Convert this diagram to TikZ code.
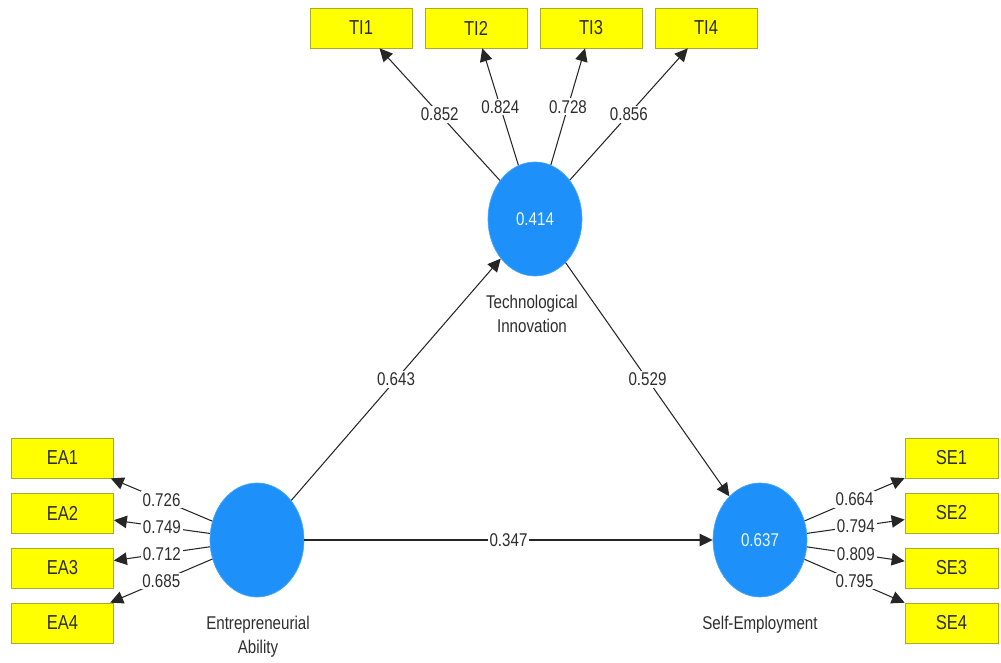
\documentclass[tikz,border=0pt]{standalone}
\usepackage{fontspec}
\setmainfont{Liberation Sans}[FakeStretch=0.82]
\usepackage{xcolor}
\usepackage{tikz}
\usetikzlibrary{arrows.meta,calc,positioning,shapes.geometric}

\definecolor{lvblue}{RGB}{30,144,250}
\definecolor{indyellow}{RGB}{255,255,0}
\definecolor{indborder}{RGB}{170,170,40}
\definecolor{labgray}{RGB}{45,45,45}

\tikzset{
	latent/.style={ellipse,fill=lvblue,draw=lvblue!80!white,minimum width=1.88cm,minimum height=2.28cm,inner sep=0pt,text=cyan!8!white,font=\fontsize{10.5}{12}\selectfont},
	indicator/.style={rectangle,fill=indyellow,draw=indborder,minimum width=2.04cm,minimum height=0.8cm,inner sep=0pt,text=labgray,font=\fontsize{11.5}{13}\selectfont},
	coef/.style={fill=white,inner sep=1pt,text=labgray,font=\fontsize{10.5}{12}\selectfont},
	lvname/.style={align=center,text=labgray,font=\fontsize{10.5}{13.5}\selectfont},
	path/.style={-{Triangle[length=2.6mm,width=2.5mm]},line width=0.6pt,draw=black!85}
}

\begin{document}
\begin{tikzpicture}
		\useasboundingbox (0,0) rectangle (20.02,13.24);
		% latent variables
		\node[latent] (ti) at (10.70,8.86) {0.414};
		\node[latent] (ea) at (5.14,2.44) {};
		\node[latent] (se) at (15.20,2.44) {0.637};
		\node[lvname] (tiname) at (10.64,6.96) {Technological\\Innovation};
		\node[lvname] (eaname) at (5.16,0.50) {Entrepreneurial\\Ability};
		\node[lvname] (sename) at (15.20,0.74) {Self-Employment};
		% indicators
		\node[indicator] (ti1) at (7.22,12.68) {TI1};
		\node[indicator] (ti2) at (9.52,12.68) {TI2};
		\node[indicator] (ti3) at (11.82,12.68) {TI3};
		\node[indicator] (ti4) at (14.12,12.68) {TI4};
		\node[indicator] (ea1) at (1.25,4.08) {EA1};
		\node[indicator] (ea2) at (1.25,2.98) {EA2};
		\node[indicator] (ea3) at (1.25,1.88) {EA3};
		\node[indicator] (ea4) at (1.25,0.78) {EA4};
		\node[indicator,minimum width=1.86cm] (se1) at (19.03,4.08) {SE1};
		\node[indicator,minimum width=1.86cm] (se2) at (19.03,2.98) {SE2};
		\node[indicator,minimum width=1.86cm] (se3) at (19.03,1.88) {SE3};
		\node[indicator,minimum width=1.86cm] (se4) at (19.03,0.78) {SE4};
		% outer loadings
		\draw[path] (ti) -- node[coef]{0.852} (ti1);
		\draw[path] (ti) -- node[coef]{0.824} (ti2);
		\draw[path] (ti) -- node[coef]{0.728} (ti3);
		\draw[path] (ti) -- node[coef]{0.856} (ti4);
		\draw[path] (ea) -- node[coef]{0.726} (ea1);
		\draw[path] (ea) -- node[coef]{0.749} (ea2);
		\draw[path] (ea) -- node[coef]{0.712} (ea3);
		\draw[path] (ea) -- node[coef]{0.685} (ea4);
		\draw[path] (se) -- node[coef]{0.664} (se1);
		\draw[path] (se) -- node[coef]{0.794} (se2);
		\draw[path] (se) -- node[coef]{0.809} (se3);
		\draw[path] (se) -- node[coef]{0.795} (se4);
		% inner model
		\draw[path] (ea) -- node[coef]{0.643} (ti);
		\draw[path] (ti) -- node[coef]{0.529} (se);
		\draw[path] (ea) -- node[coef]{0.347} (se);
		\end{tikzpicture}
\end{document}
